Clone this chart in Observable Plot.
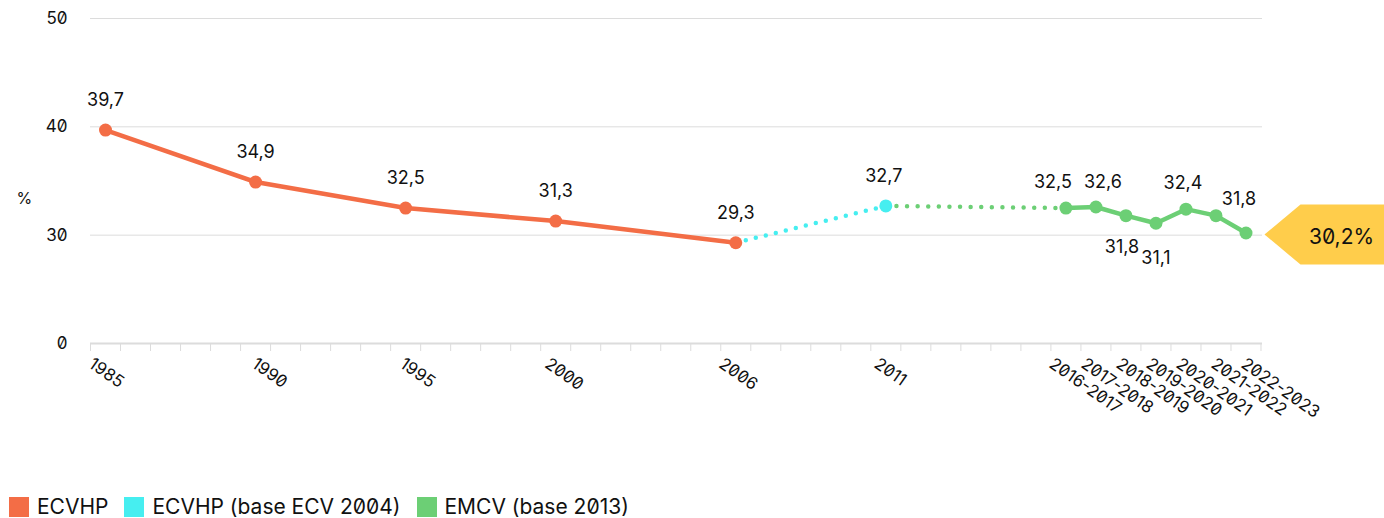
<!DOCTYPE html>
<html>
<head>
<meta charset="utf-8">
<script src="https://cdn.jsdelivr.net/npm/d3@7"></script>
<script src="https://cdn.jsdelivr.net/npm/@observablehq/plot@0.6"></script>
<style>
  html, body { margin: 0; padding: 0; background: #fff; }
  body { font-family: Inter, "Noto Sans", sans-serif; font-feature-settings: "zero" 1; color: #111; }
  #wrap { position: relative; width: 1384px; height: 518px; }
  #legend { position: absolute; left: 9px; top: 497px; height: 20px; display: flex; align-items: center; font-size: 21px; white-space: nowrap; line-height: 20px; }
  #legend .item { display: flex; align-items: center; margin-right: 16px; }
  #legend .sw { width: 20px; height: 20px; margin-right: 8px; }
  svg text { font-feature-settings: "zero" 1; }
</style>
</head>
<body>
<div id="wrap"><div id="chart"></div><div id="legend"></div></div>
<script>
// ---- data ----
const periods = ["1985","1990","1995","2000","2006","2011","2016-2017","2017-2018","2018-2019","2019-2020","2020-2021","2021-2022","2022-2023"];
const years   = [1985, 1990, 1995, 2000, 2006, 2011, 2017, 2018, 2019, 2020, 2021, 2022, 2023];
const values  = [39.7, 34.9, 32.5, 31.3, 29.3, 32.7, 32.5, 32.6, 31.8, 31.1, 32.4, 31.8, 30.2];
const seriesNames = ["ECVHP", "ECVHP (base ECV 2004)", "EMCV (base 2013)"];
const seriesOf = ["ECVHP","ECVHP","ECVHP","ECVHP","ECVHP","ECVHP (base ECV 2004)","EMCV (base 2013)","EMCV (base 2013)","EMCV (base 2013)","EMCV (base 2013)","EMCV (base 2013)","EMCV (base 2013)","EMCV (base 2013)"];
const yTicks = [20, 30, 40, 50];
const yTickLabels = ["0", "30", "40", "50"];
const colors = ["#F36D46", "#46EEF0", "#6CCF75"];
const calloutText = "30,2%";

const fmt = v => String(v).replace(".", ",");
const rows = periods.map((p, i) => ({period: p, year: years[i], value: values[i], series: seriesOf[i], i}));
const color = s => colors[seriesNames.indexOf(s)];

// label placement (style, not data)
const labelOffset = [[0,-30],[0,-30],[0,-30],[0,-30],[0,-30],[-2,-30],[-13,-26],[7,-25],[-4,32],[0,35],[-3,-26],[23,-16],null];
const tickLabelDx = [-11, 2, 0, -5, -11, -6, -11, -9, -4, -4, -4, 1, 1];

const solidOrange = rows.slice(0, 5);
const dotCyan = rows.slice(4, 6);
const dotGreen = rows.slice(5, 7);
const solidGreen = rows.slice(6);

const labelRows = rows.filter((d, i) => labelOffset[i]);

function shift(offsetOf) {
  return function(index, scales, values, dims, ctx, next) {
    const g = next(index, scales, values, dims, ctx);
    d3.select(g).selectAll("text").each(function(_, k) {
      const off = offsetOf(index[k]);
      const t = d3.select(this);
      const tr = t.attr("transform") || "";
      t.attr("transform", `translate(${off[0]},${off[1]}) ` + tr);
    });
    return g;
  };
}

const plot = Plot.plot({
  width: 1384,
  height: 480,
  marginTop: 18,
  marginLeft: 90,
  marginRight: 122,
  marginBottom: 137,
  style: {fontFamily: "Inter, 'Noto Sans', sans-serif", fontSize: "16px", color: "#111", background: "transparent"},
  x: {type: "linear", domain: [1984.5, 2023.55]},
  y: {type: "linear", domain: [20, 50]},
  marks: [
    Plot.gridY([30, 40, 50], {stroke: "#dcdcdc", strokeOpacity: 1, strokeWidth: 1}),
    Plot.axisY({ticks: yTicks, tickFormat: (d) => yTickLabels[yTicks.indexOf(d)], tickSize: 0, tickPadding: 23, fontSize: 17, fontVariant: "normal", fill: "#111", label: null}),
    Plot.ruleY([20], {stroke: "#dcdcdc", strokeWidth: 2}),
    Plot.axisX({ticks: d3.range(1984.5, 2024, 1), tickFormat: () => "", tickSize: 8, stroke: "#dcdcdc", strokeOpacity: 1, label: null}),
    Plot.text(rows, {x: "year", text: "period", frameAnchor: "bottom", rotate: 35, textAnchor: "start", lineAnchor: "top", dy: 13, fontSize: 17, fill: "#111",
      render: shift(i => [tickLabelDx[i], 0])}),
    Plot.text(["%"], {frameAnchor: "left", dx: -74, dy: 18, textAnchor: "start", fontSize: 16, fill: "#111"}),
    Plot.line(dotCyan, {x: "year", y: "value", stroke: colors[1], strokeWidth: 4.5, strokeDasharray: "0 10.3", strokeLinecap: "round"}),
    Plot.line(dotGreen, {x: "year", y: "value", stroke: colors[2], strokeWidth: 4.5, strokeDasharray: "0 10.6", strokeLinecap: "round"}),
    Plot.line(solidOrange, {x: "year", y: "value", stroke: colors[0], strokeWidth: 4.5, strokeLinejoin: "round"}),
    Plot.line(solidGreen, {x: "year", y: "value", stroke: colors[2], strokeWidth: 4.5, strokeLinejoin: "round"}),
    Plot.dot(rows, {x: "year", y: "value", r: 6.5, fill: d => color(d.series), stroke: "none"}),
    Plot.text(labelRows, {x: "year", y: "value", text: d => fmt(d.value), fontSize: 18, fill: "#111",
      render: shift(k => labelOffset[labelRows[k].i])})
  ]
});

document.getElementById("chart").appendChild(plot);

// callout for last value, positioned through the plot scales
const last = rows[rows.length - 1];
const px = plot.scale("x").apply(last.year);
const py = plot.scale("y").apply(last.value);
const svg = d3.select(plot);
const cy = py + 2;
const callout = svg.append("g");
callout.append("path")
  .attr("d", `M${px + 19},${cy} L${px + 55},${cy - 30} L1384,${cy - 30} L1384,${cy + 30} L${px + 55},${cy + 30} Z`)
  .attr("fill", "#FFCD4B");
callout.append("text")
  .attr("x", px + 96).attr("y", cy + 4)
  .attr("text-anchor", "middle").attr("dominant-baseline", "middle")
  .attr("font-size", 21).attr("fill", "#111")
  .text(calloutText);

// legend
const legend = d3.select("#legend");
seriesNames.forEach((s, i) => {
  const it = legend.append("div").attr("class", "item");
  it.append("div").attr("class", "sw").style("background", colors[i]);
  it.append("span").text(s);
});
</script>
</body>
</html>
